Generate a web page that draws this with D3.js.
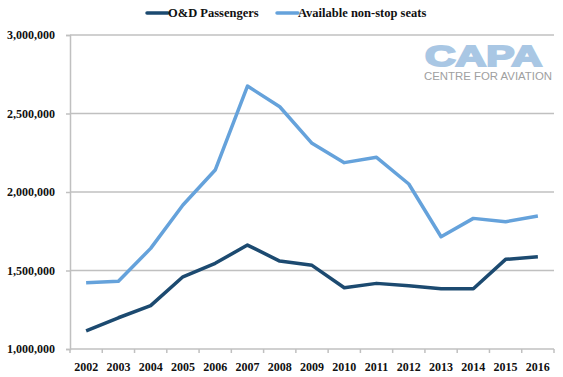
<!DOCTYPE html>
<html>
<head>
<meta charset="utf-8">
<script src="https://cdn.jsdelivr.net/npm/d3@7"></script>
<style>
  body { margin: 0; background: #fff; }
  svg text { font-family: "Liberation Serif", "DejaVu Serif", serif; font-weight: bold; }
</style>
</head>
<body>
<svg id="chart" width="563" height="377"></svg>
<script>
// values
var years = ['2002', '2003', '2004', '2005', '2006', '2007', '2008', '2009', '2010', '2011', '2012', '2013', '2014', '2015', '2016']
var odPassengers = [1116000, 1199000, 1276000, 1460000, 1546000, 1662000, 1560000, 1533000, 1390000, 1418000, 1403000, 1384000, 1384000, 1571000, 1588000]
var nonStopSeats = [1422000, 1431000, 1641000, 1917000, 2140000, 2675000, 2543000, 2310000, 2187000, 2221000, 2051000, 1715000, 1832000, 1811000, 1847000]
var yTicks = [1000000, 1500000, 2000000, 2500000, 3000000]
var seriesNames = ['O&D Passengers', 'Available non-stop seats']
var seriesColors = ['#1c4a70', '#65a2db']

var svg = d3.select('#chart')
var plotLeft = 70, plotRight = 554, plotTop = 35, plotBottom = 349

var x = d3.scaleBand().domain(years).range([plotLeft, plotRight])
var y = d3.scaleLinear().domain([1000000, 3000000]).range([plotBottom, plotTop])

// gridlines
svg.append('g').selectAll('line')
    .data(yTicks.slice(1))
    .join('line')
    .attr('x1', plotLeft).attr('x2', plotRight)
    .attr('y1', d => y(d)).attr('y2', d => y(d))
    .attr('stroke', '#c0c0c0').attr('stroke-width', 1.5)

// logo (drawn behind the lines)
var logo = svg.append('g')
logo.append('text')
    .attr('x', 425).attr('y', 66)
    .attr('textLength', 117).attr('lengthAdjust', 'spacingAndGlyphs')
    .style('font-family', '"Liberation Sans", Arial, sans-serif')
    .style('font-weight', 'bold').style('font-size', '30px')
    .attr('fill', '#a9c7e4').attr('stroke', '#a9c7e4').attr('stroke-width', 2)
    .text('CAPA')
logo.append('text')
    .attr('x', 424).attr('y', 80)
    .attr('textLength', 128).attr('lengthAdjust', 'spacingAndGlyphs')
    .style('font-family', '"Liberation Sans", Arial, sans-serif')
    .style('font-weight', 'normal').style('font-size', '10.5px')
    .attr('fill', '#a0a0a0')
    .text('CENTRE FOR AVIATION')

// y axis
var gy = svg.append('g')
    .attr('transform', `translate(${plotLeft},0)`)
    .call(d3.axisLeft(y).tickValues(yTicks).tickSize(4).tickPadding(11).tickFormat(d3.format(',')))
gy.select('.domain').attr('stroke', '#c0c0c0').attr('stroke-width', 1.5)
gy.selectAll('.tick line').attr('stroke', '#c0c0c0').attr('stroke-width', 1.5)
gy.selectAll('.tick text').attr('fill', '#111').style('font-size', '12px')

// x axis
var xTickPos = years.map(d => x(d)).concat([plotRight])
var gx = svg.append('g')
gx.append('line')
    .attr('x1', plotLeft).attr('x2', plotRight).attr('y1', plotBottom).attr('y2', plotBottom)
    .attr('stroke', '#c0c0c0').attr('stroke-width', 1.5)
gx.selectAll('.xt')
    .data(xTickPos)
    .join('line')
    .attr('class', 'xt')
    .attr('x1', d => d).attr('x2', d => d)
    .attr('y1', plotBottom).attr('y2', plotBottom + 4)
    .attr('stroke', '#c0c0c0').attr('stroke-width', 1.5)
gx.selectAll('text')
    .data(years)
    .join('text')
    .attr('x', d => x(d) + x.bandwidth() / 2)
    .attr('y', 371)
    .attr('text-anchor', 'middle')
    .attr('fill', '#111')
    .style('font-size', '12px')
    .text(d => d)

// lines
var line = d3.line()
    .x((d, i) => x(years[i]) + x.bandwidth() / 2)
    .y(d => y(d))
;[odPassengers, nonStopSeats].forEach(function (vals, i) {
    svg.append('path')
        .datum(vals)
        .attr('d', line)
        .attr('fill', 'none')
        .attr('stroke', seriesColors[i])
        .attr('stroke-width', 3.5)
        .attr('stroke-linejoin', 'round')
})

// legend
var legendX = [147, 277]
for (var i = 0; i < seriesNames.length; i++) {
    svg.append('line')
        .attr('x1', legendX[i]).attr('x2', legendX[i] + 21)
        .attr('y1', 13).attr('y2', 13)
        .attr('stroke', seriesColors[i]).attr('stroke-width', 3.5)
        .attr('stroke-linecap', 'round')
    svg.append('text')
        .attr('x', legendX[i] + 21).attr('y', 17)
        .attr('fill', '#111')
        .style('font-size', '12.5px')
        .text(seriesNames[i])
}
</script>
</body>
</html>
